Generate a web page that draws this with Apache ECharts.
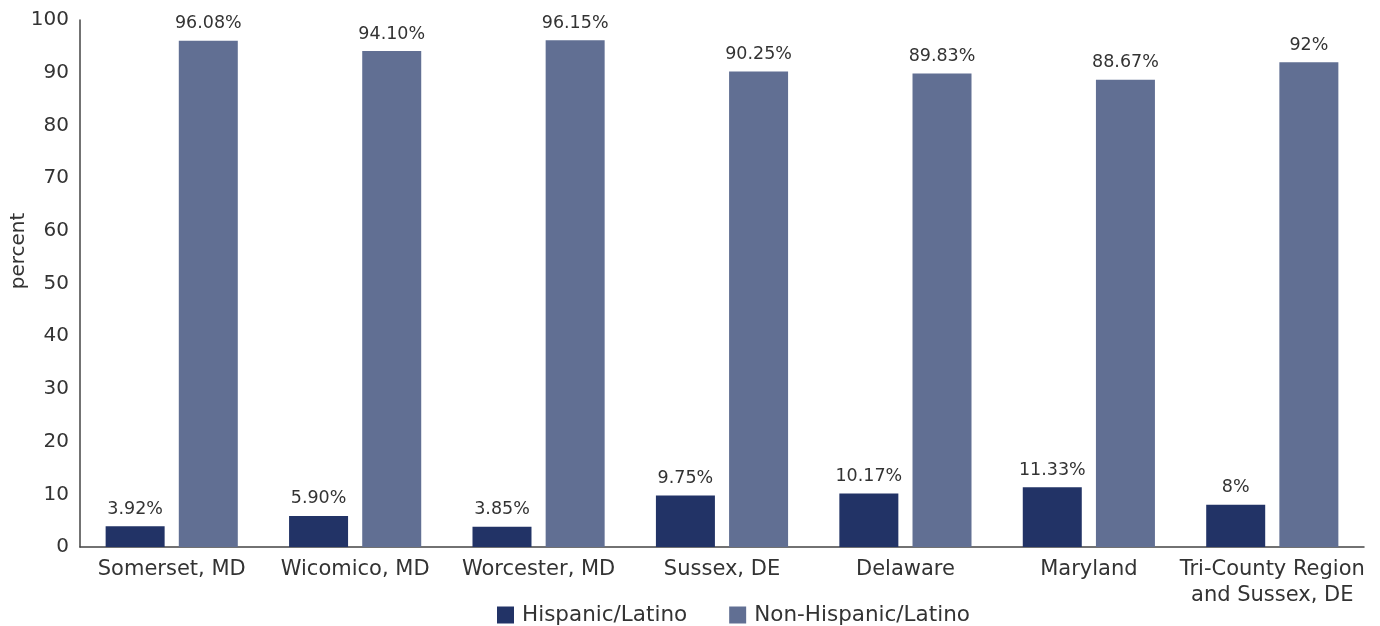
<!DOCTYPE html>
<html><head><meta charset="utf-8">
<script src="https://cdn.jsdelivr.net/npm/echarts@6/dist/echarts.min.js"></script>
<style>html,body{margin:0;padding:0;background:#fff}#c{width:1380px;height:626px}</style>
</head><body><div id="c"></div>
<script>
const categories = ['Somerset, MD','Wicomico, MD','Worcester, MD','Sussex, DE','Delaware','Maryland','Tri-County Region\nand Sussex, DE'];
const hispanic = [3.92, 5.90, 3.85, 9.75, 10.17, 11.33, 8];
const hispanicLabels = ['3.92%','5.90%','3.85%','9.75%','10.17%','11.33%','8%'];
const nonHispanic = [96.08, 94.10, 96.15, 90.25, 89.83, 88.67, 92];
const nonHispanicLabels = ['96.08%','94.10%','96.15%','90.25%','89.83%','88.67%','92%'];
const yTicks = [0,10,20,30,40,50,60,70,80,90,100];

const font = 'DejaVu Sans';
const txt = '#333';
const chart = echarts.init(document.getElementById('c'));
chart.setOption({
  animation:false,
  textStyle:{fontFamily:font},
  grid:{left:80,right:16,top:20,bottom:79,containLabel:false,outerBoundsMode:'none'},
  legend:{
    data:['Hispanic/Latino','Non-Hispanic/Latino'],
    top:599, left:492, itemWidth:17, itemHeight:17, itemGap:42,
    icon:'rect',
    textStyle:{fontFamily:font,fontSize:21.5,color:txt,padding:[0,0,0,3]}
  },
  graphic:[{
    type:'text', x:19, y:251, rotation:Math.PI/2,
    style:{text:'percent', font:'20px "DejaVu Sans"', fill:txt, textAlign:'center', textVerticalAlign:'middle'}
  }],
  xAxis:{
    type:'category', data:categories,
    axisLine:{lineStyle:{color:'#444',width:1.5}},
    axisTick:{show:false},
    axisLabel:{fontFamily:font,fontSize:21,color:txt,margin:10,lineHeight:26,interval:0}
  },
  yAxis:{
    type:'value', min:0, max:100, interval:10,
    axisLine:{show:true,lineStyle:{color:'#444',width:1.5}},
    axisTick:{show:false},
    splitLine:{show:false},
    axisLabel:{fontFamily:font,fontSize:20,color:txt,margin:11,
      formatter:v=>yTicks.includes(v)?String(v):''}
  },
  series:[
    {name:'Hispanic/Latino',type:'bar',data:hispanic,barWidth:59,barGap:'24%',
     itemStyle:{color:'#223366'},
     label:{show:true,position:'top',distance:8,fontFamily:font,fontSize:17.5,color:txt,
       formatter:p=>hispanicLabels[p.dataIndex]}},
    {name:'Non-Hispanic/Latino',type:'bar',data:nonHispanic,barWidth:59,
     itemStyle:{color:'#616f93'},
     label:{show:true,position:'top',distance:8,fontFamily:font,fontSize:17.5,color:txt,
       formatter:p=>nonHispanicLabels[p.dataIndex]}}
  ]
});
</script></body></html>
